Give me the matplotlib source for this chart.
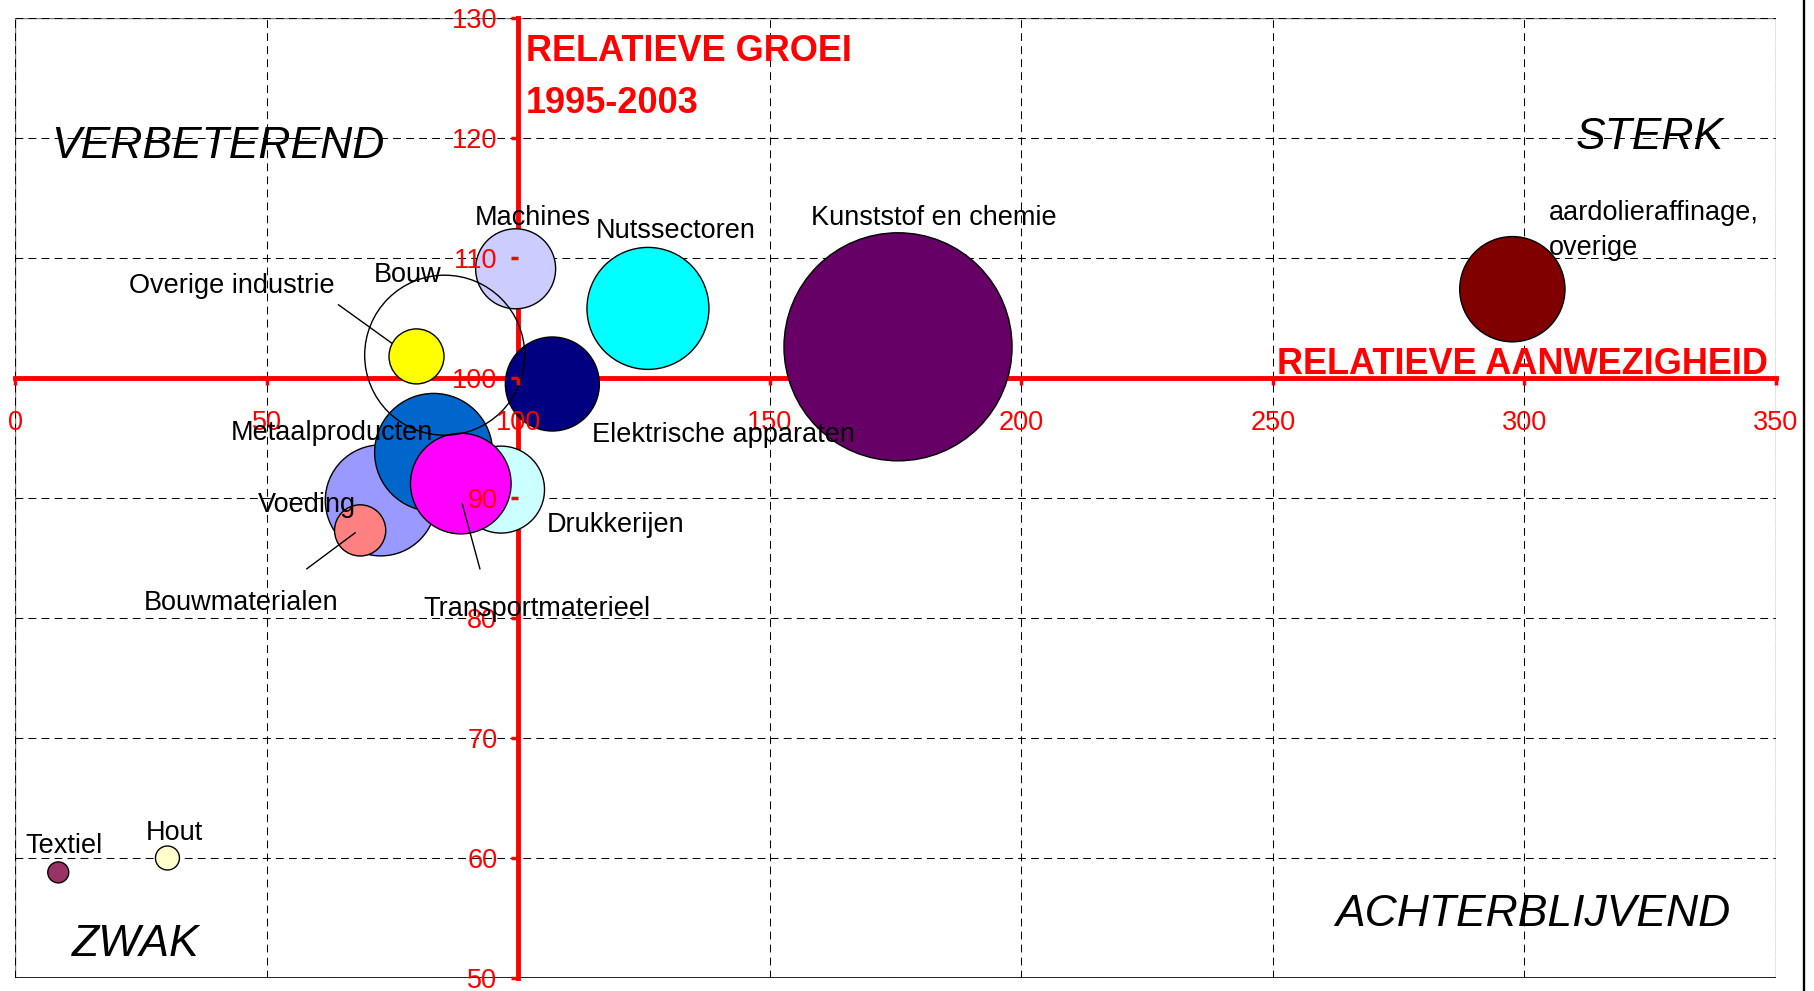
import matplotlib.pyplot as plt
from matplotlib.lines import Line2D
from matplotlib.patches import Rectangle

plt.rcParams['font.family'] = ['Liberation Sans', 'DejaVu Sans']

# sectors in drawing order (later ones end up on top)
sectors = ["Voeding", "Bouwmaterialen", "Drukkerijen", "Metaalproducten",
           "Transportmaterieel", "Machines", "Overige industrie",
           "Elektrische apparaten", "Nutssectoren", "Kunststof en chemie",
           "aardolieraffinage,\noverige", "Textiel", "Hout", "Bouw"]
presence = [72.7, 68.6, 96.6, 83.2, 88.6, 99.5, 79.8,
            106.8, 125.8, 175.5, 297.6, 8.6, 30.3, 85.4]
growth = [89.8, 87.3, 90.7, 93.8, 91.2, 109.1, 101.8,
          99.5, 105.8, 102.6, 107.4, 58.8, 60.0, 101.9]
weight = [30.8, 6.55, 18.9, 34.8, 25.3, 16.0, 7.56,
          22.1, 37.2, 130.0, 27.7, 1.1, 1.44, 64.0]
colors = ["#9999FF", "#FF8080", "#CCFFFF", "#0066CC", "#FF00FF", "#CCCCFF", "#FFFF00",
          "#000080", "#00FFFF", "#660066", "#800000", "#993366", "#FFFFCC", "none"]

x_ticks = [0, 50, 100, 150, 200, 250, 300, 350]
y_ticks = [50, 60, 70, 80, 90, 100, 110, 120, 130]

fig = plt.figure(figsize=(18.14, 9.91), dpi=100)
ax = fig.add_axes([15 / 1814, 13 / 991, 1761 / 1814, 960 / 991])
ax.set_xlim(0, 350)
ax.set_ylim(50, 130)

# plot area border + dashed grid
ax.add_patch(Rectangle((0, 0), 1, 1, transform=ax.transAxes, fill=False,
                       ec="#808080", lw=1, zorder=0.5))
for v in x_ticks:
    ax.axvline(v, color="black", lw=0.75, ls=(0, (7.5, 5)), zorder=1)
for v in y_ticks:
    ax.axhline(v, color="black", lw=0.75, ls=(0, (7.5, 5)), zorder=1)
ax.axhline(50, color="black", lw=1.2, zorder=1.1)

# red axes crossing at (100, 100)
for side in ["top", "right"]:
    ax.spines[side].set_visible(False)
for side in ["left", "bottom"]:
    ax.spines[side].set_position(("data", 100))
    ax.spines[side].set_color("red")
    ax.spines[side].set_linewidth(3.5)
    ax.spines[side].set_zorder(2)

ax.set_xticks(x_ticks)
ax.set_yticks(y_ticks)
ax.tick_params(axis="x", colors="red", direction="out", length=5, width=2.5,
               pad=18, labelsize=19.5)
ax.tick_params(axis="y", colors="red", direction="out", length=5, width=2.5,
               pad=10, labelsize=19.5)
ax.xaxis.set_zorder(5)
ax.yaxis.set_zorder(5)

# bubbles: marker area proportional to weight
ax.scatter(presence, growth, s=[w * 207.4 for w in weight], c=colors,
           edgecolors="black", linewidths=1, zorder=3)

# sector labels (x, baseline y of last line, alignment)
label_pos = {
    "Machines": (102.9, 112.75, "center"),
    "Nutssectoren": (131.4, 111.67, "center"),
    "Bouw": (78.0, 108.0, "center"),
    "Overige industrie": (43.1, 107.08, "center"),
    "Metaalproducten": (62.9, 94.83, "center"),
    "Voeding": (58.0, 88.86, "center"),
    "Bouwmaterialen": (45.0, 80.67, "center"),
    "Elektrische apparaten": (114.6, 94.69, "left"),
    "Drukkerijen": (105.7, 87.19, "left"),
    "Transportmaterieel": (103.7, 80.17, "center"),
    "Kunststof en chemie": (182.6, 112.75, "center"),
    "aardolieraffinage,\noverige": (304.9, 110.25, "left"),
    "Textiel": (9.8, 60.42, "center"),
    "Hout": (31.7, 61.5, "center"),
}
for name in sectors:
    lx, ly, ha = label_pos[name]
    ax.text(lx, ly, name, fontsize=19.5, ha=ha, va="baseline",
            linespacing=1.45, zorder=6)

# leader lines
ax.plot([64.3, 74.9], [106.1, 102.9], color="black", lw=1, zorder=4)
ax.plot([58.0, 67.6], [84.1, 87.1], color="black", lw=1, zorder=4)
ax.plot([92.4, 88.9], [84.1, 89.5], color="black", lw=1, zorder=4)

# quadrant names
quad = dict(fontsize=32, style="italic", ha="center", va="baseline", zorder=6)
ax.text(40.3, 118.3, "VERBETEREND", **quad)
ax.text(325.0, 119.06, "STERK", **quad)
ax.text(24.05, 51.8, "ZWAK", **quad)
ax.text(301.6, 54.3, "ACHTERBLIJVEND", **quad)

# axis titles
ax.text(101.6, 122.06, "RELATIEVE GROEI\n1995-2003", color="red",
        fontsize=26, fontweight="bold", ha="left", va="baseline",
        linespacing=1.64, zorder=6)
ax.text(348.4, 100.3, "RELATIEVE AANWEZIGHEID", color="red",
        fontsize=26, fontweight="bold", ha="right", va="baseline", zorder=6)

# chart area border on the right
fig.add_artist(Line2D([1804 / 1814, 1804 / 1814], [0, 1], color="black", lw=1.7,
                      transform=fig.transFigure))

fig.savefig("out.png", dpi=100)
